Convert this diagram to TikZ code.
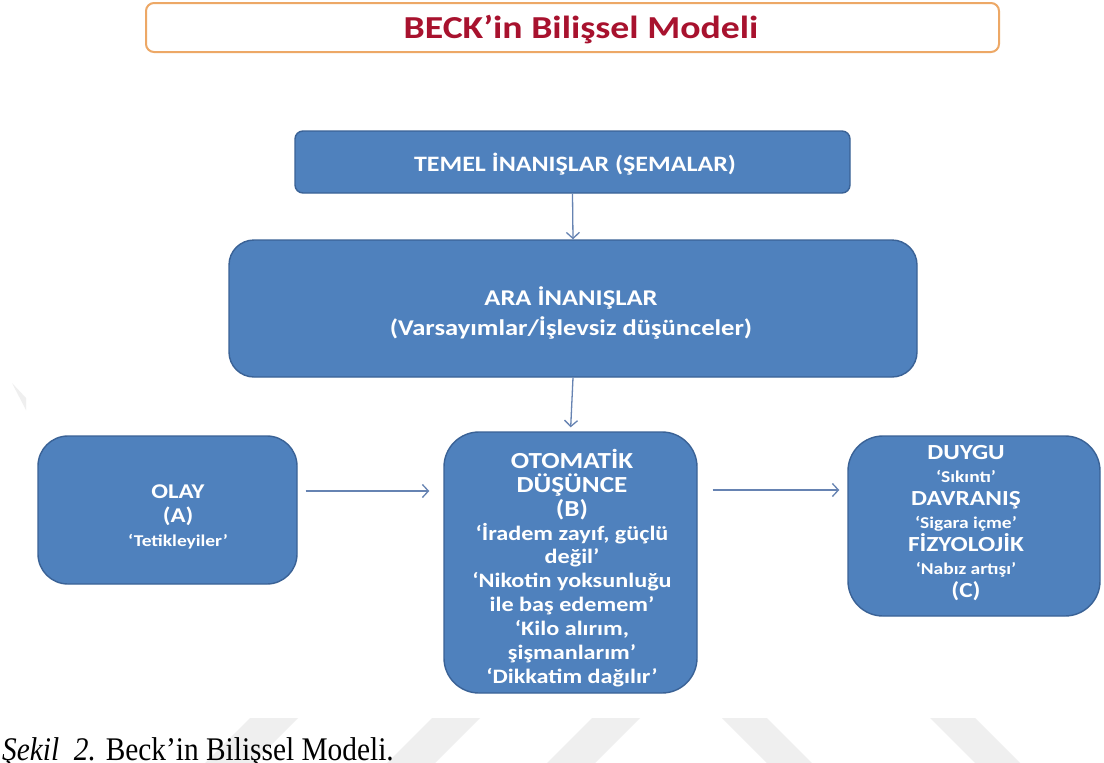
\documentclass[tikz,border=0pt]{standalone}
\usepackage{fontspec}
\setmainfont{Liberation Serif}
\newfontfamily\calib[FakeStretch=1.18]{Carlito}
\usetikzlibrary{arrows.meta}
\definecolor{boxfill}{HTML}{4F81BD}
\definecolor{boxline}{HTML}{3A6296}
\definecolor{arrowc}{HTML}{6683B2}
\definecolor{titlered}{HTML}{A8122E}
\definecolor{titleline}{HTML}{EDA866}
\definecolor{wmark}{HTML}{EFEFEF}
\newcommand\fsz[2]{\fontsize{#1}{#2}\selectfont}
\tikzset{
  bluebox/.style={draw=boxline, line width=1.4pt, fill=boxfill, inner sep=0pt},
  boxtext/.style={text=white, font=\calib\bfseries, align=center, inner sep=0pt},
  flowarrow/.style={draw=arrowc, line width=1.3pt,
    -{Straight Barb[length=6pt,width=13pt,line width=1.3pt]}},
}
\begin{document}
\begin{tikzpicture}[x=1pt,y=-1pt]
\useasboundingbox (0,0) rectangle (1104,763);
\fill[white] (0,0) rectangle (1104,763);

% faint slanted bands along the bottom edge
\foreach \a in {250,432,592}
  \fill[wmark] (\a,718) -- (\a+48,718) -- (\a+3,763) -- (\a-45,763) -- cycle;
\foreach \b in {722,930}
  \fill[wmark] (\b,718) -- (\b+45,718) -- (\b+90,763) -- (\b+45,763) -- cycle;
\fill[wmark] (12,383) -- (26,398) -- (26,410) -- cycle;

% heading
\node[draw=titleline, line width=2pt, rounded corners=8pt, fill=white,
      minimum width=853pt, minimum height=49pt, inner sep=0pt]
  (title) at (572.5,27.5) {};
\node[text=titlered, font=\calib\bfseries\fsz{32}{36}, inner sep=0pt]
  (titletext) at (581,30) {BECK’in Bilişsel Modeli};

% boxes
\node[bluebox, rounded corners=8pt, minimum width=555pt, minimum height=62pt]
  (temel) at (572.5,162) {};
\node[boxtext, font=\calib\bfseries\fsz{22}{26}] (temeltext) at (575,164)
  {TEMEL İNANIŞLAR (ŞEMALAR)};

\node[bluebox, rounded corners=25pt, minimum width=688pt, minimum height=137pt]
  (ara) at (573,308.5) {};
\node[boxtext, font=\calib\bfseries\fsz{22.5}{30}] (aratext) at (571,313)
  {ARA İNANIŞLAR\\(Varsayımlar/İşlevsiz düşünceler)};

\node[bluebox, rounded corners=35pt, minimum width=253pt, minimum height=261pt]
  (oto) at (570.5,562.5) {};
\node[boxtext, font=\calib\bfseries\fsz{23}{23.9}] (ototext) at (572,568)
  {OTOMATİK\\DÜŞÜNCE\\(B)\\
   {\fsz{20.5}{23.9}‘İradem zayıf, güçlü}\\
   {\fsz{20.5}{23.9}değil’}\\
   {\fsz{20.5}{23.9}‘Nikotin yoksunluğu}\\
   {\fsz{20.5}{23.9}ile baş edemem’}\\
   {\fsz{20.5}{23.9}‘Kilo alırım,}\\
   {\fsz{20.5}{23.9}şişmanlarım’}\\
   {\fsz{20.5}{23.9}‘Dikkatim dağılır’}};

\node[bluebox, rounded corners=30pt, minimum width=259pt, minimum height=148pt]
  (olay) at (167.5,510) {};
\node[boxtext, font=\calib\bfseries\fsz{21}{24}] (olaytext) at (178,517)
  {OLAY\\(A)\\{\fsz{16.5}{24}‘Tetikleyiler’}};

\node[bluebox, rounded corners=35pt, minimum width=252pt, minimum height=180pt]
  (duygu) at (974,526) {};
\node[boxtext, font=\calib\bfseries\fsz{21.5}{23}] (duygutext) at (966,523)
  {DUYGU\\{\fsz{16.5}{23}‘Sıkıntı’}\\
   DAVRANIŞ\\{\fsz{16.5}{23}‘Sigara içme’}\\
   FİZYOLOJİK\\{\fsz{16.5}{23}‘Nabız artışı’}\\(C)};

% connectors
\draw[flowarrow] (temel.south) -- (ara.north);
\draw[flowarrow, shorten >=4pt] (ara.south) -- (oto.north);
\draw[flowarrow, shorten <=8pt, shorten >=14pt]
  (olay.east |- 0,491) -- (oto.west |- 0,491);
\draw[flowarrow, shorten <=15pt, shorten >=8pt]
  (oto.east |- 0,490) -- (duygu.west |- 0,490);

% caption
\node[anchor=base west, inner sep=0pt, xscale=0.89,
      font=\fsz{33}{36}] (cap) at (2,760)
  {\textit{Şekil\ \ 2.} Beck’in Bilişsel Modeli.};
\end{tikzpicture}
\end{document}
